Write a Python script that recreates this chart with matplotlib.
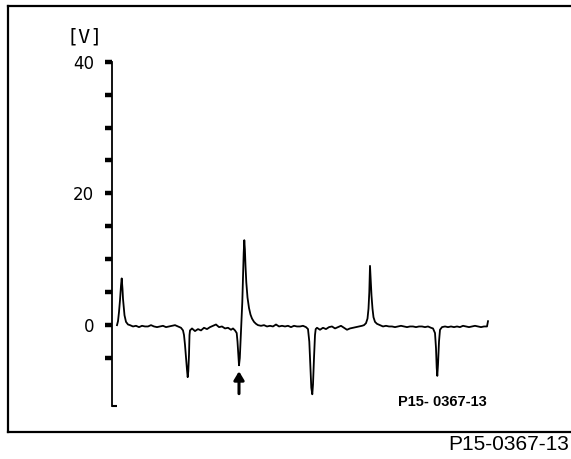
import matplotlib
matplotlib.use("Agg")
import matplotlib.pyplot as plt
from matplotlib.lines import Line2D

W, H = 571, 459

# Signal trace: time (arbitrary units) and voltage [V]
t_a = [5, 6, 7, 8, 9, 9.7, 10.5, 11, 12, 12.5, 13.5, 14, 16]
v_a = [0.0, 0.6, 2.0, 3.8, 6.0, 7.1, 5.5, 4.0, 2.2, 1.5, 0.8, 0.5, 0.1]
t_b = [18, 21, 24, 27, 30, 33, 36, 39, 42, 45, 48, 51, 54, 57, 60, 63, 66, 69]
v_b = [0.0, -0.2, -0.1, -0.3, -0.1, -0.2, -0.2, 0.0, -0.2, -0.3, -0.2, -0.1, -0.3, -0.2, -0.1, 0.0, -0.2, -0.4]
t_c = [71, 72, 73, 74, 75, 75.7, 76.3, 77, 77.5, 78]
v_c = [-0.8, -1.5, -3.0, -5.0, -6.8, -7.9, -7.0, -4.5, -1.5, -0.8]
t_d = [80, 83, 86, 89, 92, 95, 98, 101, 104, 107, 110, 113, 116, 119, 121, 123]
v_d = [-0.5, -0.9, -0.6, -0.8, -0.4, -0.6, -0.3, -0.1, 0.1, -0.3, -0.2, -0.5, -0.4, -0.7, -0.5, -0.8]
t_e = [124.7, 125.5, 126.3, 127, 127.8, 128.7, 129.5, 130.3, 131, 131.7, 132.3, 132.9, 133.5, 134.3, 135.5, 137, 138.5, 140, 142, 144]
v_e = [-1.2, -2.5, -4.5, -6.1, -5.0, -2.0, 0.5, 3.5, 7.5, 11.0, 12.9, 11.5, 9.0, 6.5, 4.2, 2.6, 1.6, 1.0, 0.5, 0.2]
t_f = [146, 149, 152, 155, 158, 161, 164, 167, 170, 173, 176, 179, 182, 185, 188, 191, 194, 196]
v_f = [0.0, -0.1, 0.0, -0.2, -0.1, -0.2, 0.1, -0.2, -0.1, -0.2, -0.1, -0.3, -0.1, -0.2, -0.2, -0.1, -0.3, -0.6]
t_g = [197.3, 198.3, 199.3, 200.3, 201, 202, 203, 203.7]
v_g = [-2.5, -6.0, -9.5, -10.5, -9.0, -5.0, -1.5, -0.6]
t_h = [205, 208, 211, 214, 217, 220, 223, 226, 229, 232, 235, 238, 241, 244, 247, 250, 252]
v_h = [-0.4, -0.7, -0.4, -0.6, -0.3, -0.2, -0.5, -0.3, -0.1, -0.4, -0.7, -0.5, -0.4, -0.3, -0.2, -0.1, 0.0]
t_i = [254, 255.5, 256.5, 257.3, 258, 258.7, 259.5, 260.5, 261.5, 263]
v_i = [0.3, 1.0, 2.5, 5.0, 9.0, 7.0, 4.5, 2.5, 1.2, 0.5]
t_j = [265, 268, 271, 274, 277, 280, 283, 286, 289, 292, 295, 298, 301, 304, 307, 310, 313, 316, 319, 321]
v_j = [0.2, 0.0, -0.2, -0.1, -0.2, -0.2, -0.3, -0.2, -0.1, -0.2, -0.3, -0.2, -0.2, -0.3, -0.2, -0.2, -0.3, -0.2, -0.4, -0.5]
t_k = [323, 324, 324.7, 325.3, 326, 327, 328]
v_k = [-1.2, -3.5, -6.5, -7.7, -6.0, -2.5, -0.7]
t_l = [330, 333, 336, 339, 342, 345, 348, 351, 354, 357, 360, 363, 366, 369, 372, 374, 375, 376]
v_l = [-0.3, -0.2, -0.3, -0.2, -0.3, -0.2, -0.3, -0.1, -0.2, -0.3, -0.2, -0.1, -0.2, -0.3, -0.2, -0.2, -0.2, 0.6]

t = t_a + t_b + t_c + t_d + t_e + t_f + t_g + t_h + t_i + t_j + t_k + t_l
v = v_a + v_b + v_c + v_d + v_e + v_f + v_g + v_h + v_i + v_j + v_k + v_l

y_ticks = [-5, 0, 5, 10, 15, 20, 25, 30, 35, 40]
y_labels = {0: "0", 20: "20", 40: "40"}
arrow_t = 127
arrow_v = (-10.4, -7.0)

fig = plt.figure(figsize=(W / 100, H / 100), dpi=100)


def fx(px):
    return px / W


def fy(py):
    return 1 - py / H


# outer frame (left, top, bottom)
for xs, ys in [([8, 571], [6, 6]), ([8, 8], [6, 432]), ([8, 571], [432, 432])]:
    fig.add_artist(Line2D([fx(x) for x in xs], [fy(y) for y in ys],
                          color="black", lw=1.6, transform=fig.transFigure))

ax_left, ax_right = 112, 500
ax_top, ax_bottom = 61.7, 405.5
ax = fig.add_axes([fx(ax_left), fy(ax_bottom), (ax_right - ax_left) / W,
                   (ax_bottom - ax_top) / H])
ax.set_xlim(0, ax_right - ax_left)
ax.set_ylim(-12.2, 40)

ax.plot(t, v, color="black", lw=1.3)

for s in ["top", "right", "bottom"]:
    ax.spines[s].set_visible(False)
ax.spines["left"].set_linewidth(1.3)
ax.set_xticks([])
ax.set_yticks(y_ticks)
ax.set_yticklabels([y_labels.get(y, "") for y in y_ticks],
                   fontsize=12, family="DejaVu Sans")
ax.tick_params(axis="y", direction="out", length=5, width=3.2, pad=8)

# small foot at the bottom of the axis
ax.plot([0, 4.5], [-12.2, -12.2], color="black", lw=1.5, clip_on=False,
        solid_capstyle="butt")

ax.annotate("", xy=(arrow_t, arrow_v[1]), xytext=(arrow_t, arrow_v[0]),
            arrowprops=dict(arrowstyle="-|>,head_width=0.3,head_length=0.5",
                            color="black", lw=2.2, shrinkA=0, shrinkB=0))

ax.text(375, -11.7, "P15- 0367-13", fontsize=10.5, fontweight="bold",
        family="Liberation Sans", ha="right", va="center")

fig.text(fx(85), fy(37), "[V]", fontsize=14.5, family="DejaVu Sans Mono",
         ha="center", va="center")

fig.text(fx(569), fy(445), "P15-0367-13", fontsize=15, family="Liberation Sans",
         ha="right", va="center")

fig.savefig("out.png", dpi=100)
